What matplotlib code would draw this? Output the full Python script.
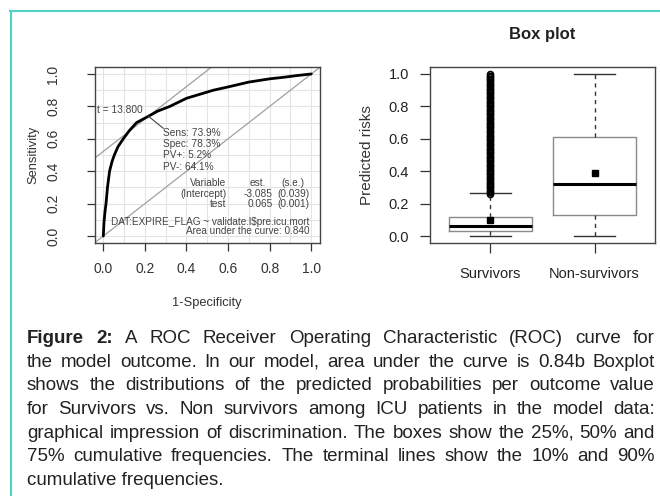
import matplotlib
matplotlib.use('Agg')
import matplotlib.pyplot as plt
from matplotlib.lines import Line2D

plt.rcParams['font.family'] = ['Liberation Sans', 'DejaVu Sans']

# ---------------- data ----------------
# ROC curve (1-specificity, sensitivity)
roc_fpr = [0.0, 0.003, 0.008, 0.013, 0.02, 0.03, 0.042, 0.053, 0.07, 0.096, 0.125,
           0.16, 0.217, 0.26, 0.32, 0.4, 0.53, 0.6, 0.7, 0.8, 0.87, 0.93, 1.0]
roc_tpr = [0.0, 0.08, 0.15, 0.2, 0.3, 0.4, 0.46, 0.5, 0.55, 0.6, 0.65,
           0.7, 0.739, 0.77, 0.8, 0.85, 0.9, 0.92, 0.95, 0.97, 0.98, 0.99, 1.0]
cut_point = (0.217, 0.739)
roc_ticks = [0.0, 0.2, 0.4, 0.6, 0.8, 1.0]
roc_tick_labels = ['0.0', '0.2', '0.4', '0.6', '0.8', '1.0']
threshold_label = 't = 13.800'
stats_lines = ['Sens: 73.9%', 'Spec: 78.3%', 'PV+: 5.2%', 'PV-: 64.1%']
table_variable = ['Variable', '(Intercept)', 'test']
table_est = ['est.', '-3.085', '0.065']
table_se = ['(s.e.)', '(0.039)', '(0.001)']
formula_text = 'DAT:EXPIRE_FLAG ~ validate.l$pre.icu.mort'
auc_text = 'Area under the curve: 0.840'

# Box plot
groups = ['Survivors', 'Non-survivors']
box_q1 = [0.03, 0.13]
box_med = [0.06, 0.32]
box_q3 = [0.12, 0.61]
box_whislo = [0.0, 0.0]
box_whishi = [0.265, 1.0]
box_mean = [0.10, 0.39]
surv_outliers = [0.26, 0.27, 0.28, 0.29, 0.30, 0.31, 0.32, 0.33, 0.34, 0.35, 0.36, 0.37,
                 0.38, 0.39, 0.40, 0.41, 0.42, 0.43, 0.44, 0.45, 0.46, 0.47, 0.48, 0.49,
                 0.50, 0.51, 0.52, 0.53, 0.54, 0.55, 0.56, 0.57, 0.58, 0.59, 0.60, 0.61,
                 0.62, 0.63, 0.64, 0.65, 0.66, 0.67, 0.68, 0.69, 0.70, 0.71, 0.72, 0.73,
                 0.74, 0.75, 0.76, 0.77, 0.78, 0.79, 0.80, 0.81, 0.82, 0.83, 0.84, 0.85,
                 0.86, 0.87, 0.88, 0.89, 0.90, 0.91, 0.92, 0.93, 0.94, 0.95, 0.96, 0.97,
                 0.98, 0.99, 1.0]
nonsurv_outliers = []
box_yticks = [0.0, 0.2, 0.4, 0.6, 0.8, 1.0]
box_ytick_labels = ['0.0', '0.2', '0.4', '0.6', '0.8', '1.0']

caption_lines = [
    'Figure 2: A ROC Receiver Operating Characteristic (ROC) curve for',
    'the model outcome. In our model, area under the curve is 0.84b Boxplot',
    'shows the distributions of the predicted probabilities per outcome value',
    'for Survivors vs. Non survivors among ICU patients in the model data:',
    'graphical impression of discrimination. The boxes show the 25%, 50% and',
    '75% cumulative frequencies. The terminal lines show the 10% and 90%',
    'cumulative frequencies.',
]

# ---------------- figure ----------------
W, H = 660, 496
fig = plt.figure(figsize=(W / 100, H / 100), dpi=100)
fig.patch.set_facecolor('white')

def fx(px):
    return px / W

def fy(py):
    return 1 - py / H

border_col = '#4fd3c2'
fig.add_artist(Line2D([fx(10), 1], [fy(10.5), fy(10.5)], transform=fig.transFigure,
                      color=border_col, lw=1.5))
fig.add_artist(Line2D([fx(11), fx(11)], [0, fy(10.5)], transform=fig.transFigure,
                      color=border_col, lw=1.5))

# ---------- ROC panel ----------
ax1 = fig.add_axes([fx(95), fy(243), fx(320) - fx(95), fy(67) - fy(243)])
ax1.set_xlim(-0.04, 1.042)
ax1.set_ylim(-0.043, 1.043)
ax1.set_xticks(roc_ticks)
ax1.set_xticklabels(roc_tick_labels)
ax1.set_yticks(roc_ticks)
ax1.set_yticklabels(roc_tick_labels, rotation=90, va='center')
ax1.set_xticks([0.1, 0.3, 0.5, 0.7, 0.9], minor=True)
ax1.set_yticks([0.1, 0.3, 0.5, 0.7, 0.9], minor=True)
ax1.tick_params(which='minor', length=0)
ax1.grid(True, which='both', color='#e4e4e4', lw=0.8)
ax1.set_axisbelow(True)
ax1.tick_params(axis='x', which='major', length=6, width=0.9, color='#333333',
                labelsize=10, labelcolor='#333333', pad=8)
ax1.tick_params(axis='y', which='major', length=6, width=0.9, color='#333333',
                labelsize=10, labelcolor='#333333', pad=19)
for s in ax1.spines.values():
    s.set_color('#444444')
    s.set_linewidth(1.0)

ax1.axline((0, 0), (1, 1), color='#a0a0a0', lw=0.9)
ax1.axline(cut_point, slope=1.0, color='#a0a0a0', lw=0.9)
ax1.plot(roc_fpr, roc_tpr, color='black', lw=2.0, solid_capstyle='round')

ax1.plot([cut_point[0], 0.288], [cut_point[1], 0.665], color='#444444', lw=0.8)
ax1.text(0.19, 0.778, threshold_label, ha='right', va='center', fontsize=7.3, color='#444444')
stat_y = [0.638, 0.568, 0.497, 0.426]
for s, yv in zip(stats_lines, stat_y):
    ax1.text(0.285, yv, s, ha='left', va='center', fontsize=7.3, color='#444444')
tab_y = [0.327, 0.261, 0.198]
for i, (v, e, se, yv) in enumerate(zip(table_variable, table_est, table_se, tab_y)):
    ax1.text(0.59, yv, v, ha='right', va='center', fontsize=7.3, color='#444444')
    if i == 0:
        ax1.text(0.78, yv, e, ha='right', va='center', fontsize=7.3, color='#444444')
        ax1.text(0.855, yv, se, ha='left', va='center', fontsize=7.3, color='#444444')
    else:
        ax1.text(0.815, yv, e, ha='right', va='center', fontsize=7.3, color='#444444')
        ax1.text(0.99, yv, se, ha='right', va='center', fontsize=7.3, color='#444444')
ax1.text(0.99, 0.088, formula_text, ha='right', va='center', fontsize=7.2, color='#444444')
ax1.text(0.99, 0.032, auc_text, ha='right', va='center', fontsize=7.2, color='#444444')

fig.text(fx(207), fy(303), '1-Specificity', ha='center', va='center', fontsize=9.3,
         color='#333333')
fig.text(fx(33), fy(155), 'Sensitivity', ha='center', va='center', fontsize=9.3,
         color='#333333', rotation=90)

# ---------- Box plot panel ----------
ax2 = fig.add_axes([fx(430), fy(243), fx(655) - fx(430), fy(67) - fy(243)])
stats = []
for i, g in enumerate(groups):
    stats.append(dict(label=g, q1=box_q1[i], med=box_med[i], q3=box_q3[i],
                      whislo=box_whislo[i], whishi=box_whishi[i], mean=box_mean[i],
                      fliers=surv_outliers if i == 0 else nonsurv_outliers))
ax2.bxp(stats, positions=[1, 2], widths=0.8, showmeans=True, manage_ticks=False,
        boxprops=dict(color='#8a8a8a', lw=1.0),
        whiskerprops=dict(color='#333333', lw=1.0, linestyle=(0, (3, 3))),
        capprops=dict(color='#333333', lw=1.0),
        medianprops=dict(color='black', lw=2.2, solid_capstyle='butt'),
        meanprops=dict(marker='s', markerfacecolor='black', markeredgecolor='black',
                       markersize=4.5),
        flierprops=dict(marker='o', markerfacecolor='none', markeredgecolor='black',
                        markersize=4.2, markeredgewidth=1.3))
ax2.set_xlim(0.42, 2.58)
ax2.set_ylim(-0.043, 1.043)
ax2.set_xticks([1, 2])
ax2.set_xticklabels(groups)
ax2.set_yticks(box_yticks)
ax2.set_yticklabels(box_ytick_labels)
ax2.tick_params(axis='x', length=7, width=0.9, color='#333333', labelsize=10.5,
                labelcolor='#222222', pad=10)
ax2.tick_params(axis='y', length=7, width=0.9, color='#333333', labelsize=10.5,
                labelcolor='#222222', pad=8)
for s in ax2.spines.values():
    s.set_color('#444444')
    s.set_linewidth(1.0)
ax2.set_title('Box plot', fontsize=12, fontweight='bold', color='#222222', pad=20)
fig.text(fx(367), fy(155), 'Predicted risks', ha='center', va='center', fontsize=11,
         color='#333333', rotation=90)

# ---------- caption (justified) ----------
fig.canvas.draw()
renderer = fig.canvas.get_renderer()
cap_left, cap_right = 27, 655
baseline0, line_gap = 343.3, 23.6

# choose a font size so the densest line just fits with normal word spacing
probe_size = 10.0
max_w = 0
for li, line in enumerate(caption_lines[:-1]):
    t = fig.text(0, 0, line, fontsize=probe_size)
    max_w = max(max_w, t.get_window_extent(renderer=renderer).width)
    t.remove()
cap_size = probe_size * (cap_right - cap_left) / max_w * 0.985

for li, line in enumerate(caption_lines):
    yb = fy(baseline0 + li * line_gap)
    words = line.split(' ')
    if li == len(caption_lines) - 1:
        fig.text(fx(cap_left), yb, line, ha='left', va='baseline', fontsize=cap_size,
                 color='#222222')
        continue
    objs = []
    widths = []
    for wi, w in enumerate(words):
        bold = (li == 0 and wi < 2)
        t = fig.text(0, yb, w, ha='left', va='baseline', fontsize=cap_size,
                     fontweight='bold' if bold else 'normal', color='#222222')
        bb = t.get_window_extent(renderer=renderer)
        objs.append(t)
        widths.append(bb.width)
    gap = (cap_right - cap_left - sum(widths)) / (len(words) - 1)
    x = cap_left
    for t, wdt in zip(objs, widths):
        t.set_x(fx(x))
        x += wdt + gap

fig.savefig('out.png', dpi=100, facecolor='white')
